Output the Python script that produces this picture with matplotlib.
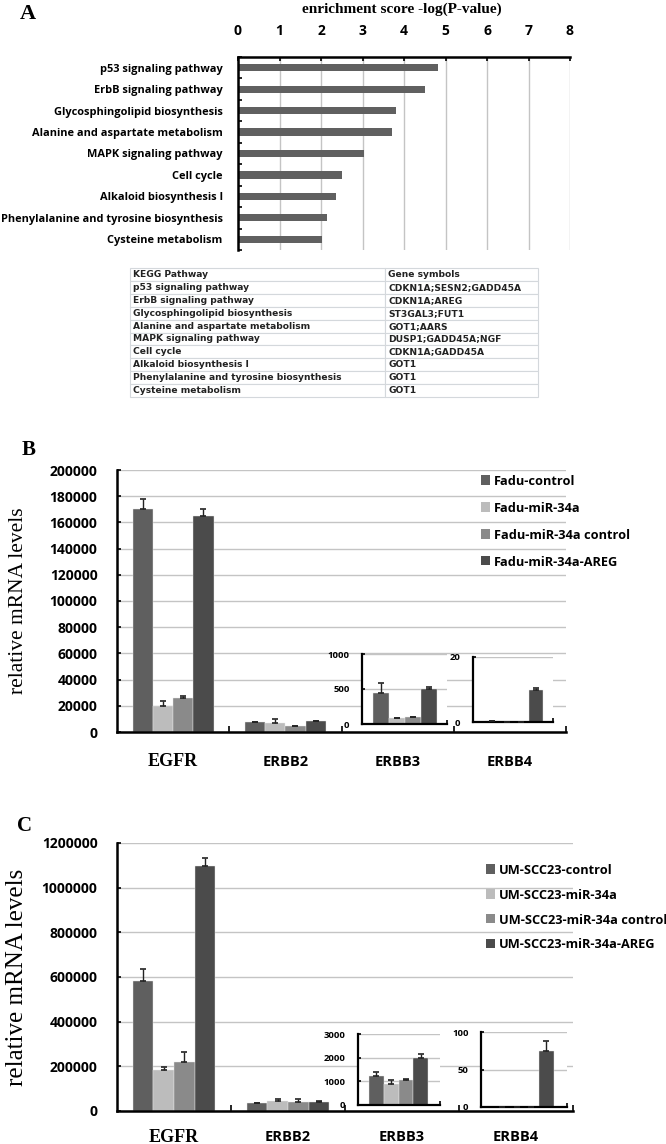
import numpy as np
import matplotlib
matplotlib.use('Agg')
import matplotlib.pyplot as plt
from matplotlib.patches import Patch
from matplotlib.ticker import FuncFormatter

W, H = 666, 1144
SANS = 'Open Sans'
SERIF = 'Liberation Serif'

# ---- panel A data
pathways = ['p53 signaling pathway', 'ErbB signaling pathway', 'Glycosphingolipid biosynthesis',
            'Alanine and aspartate metabolism', 'MAPK signaling pathway', 'Cell cycle',
            'Alkaloid biosynthesis I', 'Phenylalanine and tyrosine biosynthesis', 'Cysteine metabolism']
scores = [4.82, 4.5, 3.81, 3.71, 3.04, 2.5, 2.36, 2.14, 2.03]
gene_symbols = ['CDKN1A;SESN2;GADD45A', 'CDKN1A;AREG', 'ST3GAL3;FUT1', 'GOT1;AARS',
                'DUSP1;GADD45A;NGF', 'CDKN1A;GADD45A', 'GOT1', 'GOT1', 'GOT1']

# ---- panel B data (Fadu)
genes = ['EGFR', 'ERBB2', 'ERBB3', 'ERBB4']
fadu_groups = ['Fadu-control', 'Fadu-miR-34a', 'Fadu-miR-34a control', 'Fadu-miR-34a-AREG']
fadu_egfr = [170000, 19800, 26000, 165000]
fadu_egfr_err = [8000, 3900, 1500, 5000]
fadu_erbb2 = [7600, 6900, 4600, 8400]
fadu_erbb2_err = [0, 3000, 0, 0]
fadu_erbb3 = [443, 86, 100, 500]
fadu_erbb3_err = [143, 0, 0, 29]
fadu_erbb4 = [0.3, 0.15, 0.15, 9.7]
fadu_erbb4_err = [0, 0, 0, 0.9]

# ---- panel C data (UM-SCC23)
um_groups = ['UM-SCC23-control', 'UM-SCC23-miR-34a', 'UM-SCC23-miR-34a control', 'UM-SCC23-miR-34a-AREG']
um_egfr = [582000, 183000, 219000, 1097000]
um_egfr_err = [54000, 13000, 45000, 36000]
um_erbb2 = [34000, 46000, 42000, 39000]
um_erbb2_err = [0, 6000, 10000, 6000]
um_erbb3 = [1225, 887, 1056, 1986]
um_erbb3_err = [170, 170, 40, 170]
um_erbb4 = [0.3, 0.3, 0.3, 75]
um_erbb4_err = [0, 0, 0, 13]

colors = ['#5f5f5f', '#bcbcbc', '#8a8a8a', '#4b4b4b']
grid_c = '#c4c4c4'


def box(l, t, r, b):
    return [l / W, 1 - b / H, (r - l) / W, (b - t) / H]


def bold_sans(labels):
    for t in labels:
        t.set_fontfamily(SANS)
        t.set_fontweight('bold')


fig = plt.figure(figsize=(W / 100, H / 100), dpi=100)

# ================= panel A
axA = fig.add_axes(box(238, 57, 570, 250))
yy = np.arange(len(pathways))
axA.barh(yy, scores, height=0.34, color='#606060')
axA.set_xlim(0, 8)
axA.set_ylim(8.46, -0.46)
axA.xaxis.tick_top()
axA.set_xticks(range(9))
axA.tick_params(axis='x', direction='in', length=3, width=1.2, pad=13.5, labelsize=10)
bold_sans(axA.get_xticklabels())
axA.set_yticks(yy, pathways)
axA.set_yticks(np.arange(-0.5, 9, 1), minor=True)
axA.tick_params(axis='y', which='major', length=0, pad=11, labelsize=7.9)
axA.tick_params(axis='y', which='minor', direction='in', length=3, width=1.2)
bold_sans(axA.get_yticklabels())
axA.xaxis.grid(True, color=grid_c, lw=1)
axA.set_axisbelow(True)
for s in ['bottom', 'right']:
    axA.spines[s].set_visible(False)
for s in ['top', 'left']:
    axA.spines[s].set_linewidth(1.8)
fig.text(402 / W, 1 - 9 / H, 'enrichment score -log(P-value)', ha='center', va='center',
         family=SERIF, weight='bold', fontsize=11)
fig.text(20 / W, 1 - 14 / H, 'A', family=SERIF, weight='bold', fontsize=16, va='center')

# ---- table
axT = fig.add_axes(box(130, 268, 538, 397))
axT.axis('off')
rows = [['KEGG Pathway', 'Gene symbols']] + [[p, g] for p, g in zip(pathways, gene_symbols)]
tbl = axT.table(cellText=rows, colWidths=[255 / 408, 153 / 408], cellLoc='left', bbox=[0, 0, 1, 1])
tbl.auto_set_font_size(False)
for (r, c), cell in tbl.get_celld().items():
    cell.PAD = 0.012 if c == 0 else 0.02
    cell.set_edgecolor('#d4d8dc')
    cell.set_linewidth(0.8)
    cell.get_text().set_fontsize(6.6)
    cell.get_text().set_fontfamily('DejaVu Sans')
    cell.get_text().set_fontweight('bold')
    cell.get_text().set_color('#222222')


# ================= bar panels
def main_panel(rect, ymax, ystep, vals, errs, label_off):
    ax = fig.add_axes(rect)
    w = 0.18
    for k in range(4):
        xs = [0 + (k - 1.5) * w, 1 + (k - 1.5) * w]
        hs = [vals[0][k], vals[1][k]]
        es = [errs[0][k], errs[1][k]]
        ax.bar(xs, hs, width=w, color=colors[k], edgecolor='#e8e8e8', linewidth=0.3, zorder=2)
        ax.errorbar(xs, hs, yerr=[[0, 0], es], fmt='none', ecolor='#222222', elinewidth=1,
                    capsize=2, capthick=1.2, zorder=3)
    ax.set_xlim(-0.5, 3.5)
    ax.set_ylim(0, ymax)
    ax.set_yticks(np.arange(0, ymax + 1, ystep))
    ax.yaxis.set_major_formatter(FuncFormatter(lambda v, p: '%d' % v))
    ax.yaxis.grid(True, color=grid_c, lw=1)
    ax.set_axisbelow(True)
    ax.set_xticks([0.5, 1.5, 2.5, 3.5])
    ax.set_xticklabels([])
    ax.tick_params(axis='x', direction='in', length=4, width=1.2)
    ax.tick_params(axis='y', direction='in', length=3, width=1.2, pad=14, labelsize=10)
    bold_sans(ax.get_yticklabels())
    for s in ['top', 'right']:
        ax.spines[s].set_visible(False)
    for s in ['bottom', 'left']:
        ax.spines[s].set_linewidth(1.8)
    for i, g in enumerate(genes):
        if i == 0:
            fp = dict(family=SERIF, weight='bold', fontsize=13)
        else:
            fp = dict(family=SANS, weight='bold', fontsize=10.5)
        ax.annotate(g, xy=(i, 0), xycoords=('data', 'axes fraction'), xytext=(0, -label_off * 0.72),
                    textcoords='offset points', ha='center', va='center', **fp)
    return ax


def inset(rect, vals, errs, ymax, ticks, xl):
    ax = fig.add_axes(rect)
    x = np.arange(4)
    ax.bar(x, vals, width=1.0, color=colors, edgecolor='#e8e8e8', linewidth=0.3, zorder=2)
    ax.errorbar(x, vals, yerr=[[0] * 4, errs], fmt='none', ecolor='#222222', elinewidth=1,
                capsize=2, capthick=1.2, zorder=3)
    ax.set_xlim(*xl)
    ax.set_ylim(0, ymax)
    ax.set_yticks(ticks)
    ax.yaxis.grid(True, color=grid_c, lw=1)
    ax.set_axisbelow(True)
    ax.set_xticks([xl[1]])
    ax.set_xticklabels([])
    ax.tick_params(axis='x', direction='in', length=3, width=1.2)
    ax.tick_params(axis='y', direction='in', length=2.5, width=1.2, pad=9, labelsize=6.8)
    bold_sans(ax.get_yticklabels())
    for s in ['top', 'right']:
        ax.spines[s].set_visible(False)
    for s in ['bottom', 'left']:
        ax.spines[s].set_linewidth(1.6)
    return ax


def legend(ax, labels, anchor, spacing):
    handles = [Patch(facecolor=c, edgecolor='none') for c in colors]
    lg = ax.legend(handles, labels, loc='upper left', bbox_to_anchor=anchor,
                   bbox_transform=fig.transFigure, frameon=False, handlelength=0.65,
                   handleheight=0.65, handletextpad=0.3, labelspacing=spacing,
                   borderaxespad=0, borderpad=0)
    for t in lg.get_texts():
        t.set_fontfamily(SANS)
        t.set_fontweight('bold')
        t.set_fontsize(9.2)


# ---- panel B
axB = main_panel(box(117, 470, 566, 732), 200000, 20000,
                 [fadu_egfr, fadu_erbb2], [fadu_egfr_err, fadu_erbb2_err], 30)
axB.set_ylabel('relative mRNA levels', family=SERIF, fontsize=15.5)
fig.text(22 / W, 1 - 450 / H, 'B', family=SERIF, weight='bold', fontsize=15, va='center')
inset(box(362, 654, 447, 724), fadu_erbb3, fadu_erbb3_err, 1000, [0, 500, 1000], (-1.19, 4.12))
inset(box(473, 657, 553, 722), fadu_erbb4, fadu_erbb4_err, 20, [0, 20], (-1.33, 4.19))
legend(axB, fadu_groups, (481 / W, 1 - 475 / H), 1.0)

# ---- panel C
axC = main_panel(box(117, 843, 573, 1111), 1200000, 200000,
                 [um_egfr, um_erbb2], [um_egfr_err, um_erbb2_err], 26)
axC.set_ylabel('relative mRNA levels', family=SERIF, fontsize=18)
fig.text(17 / W, 1 - 826 / H, 'C', family=SERIF, weight='bold', fontsize=15, va='center')
inset(box(358, 1034, 440, 1105), um_erbb3, um_erbb3_err, 3000, [0, 1000, 2000, 3000], (-1.25, 4.31))
inset(box(481, 1032, 567, 1107), um_erbb4, um_erbb4_err, 100, [0, 50, 100], (-1.37, 4.37))
legend(axC, um_groups, (486 / W, 1 - 864 / H), 0.85)

# y labels sit near the left edge of the figure
axB.yaxis.set_label_coords((28 - 117) / 449, 0.5)
axC.yaxis.set_label_coords((28 - 117) / 456, 0.5)

fig.savefig('out.png', dpi=100)
